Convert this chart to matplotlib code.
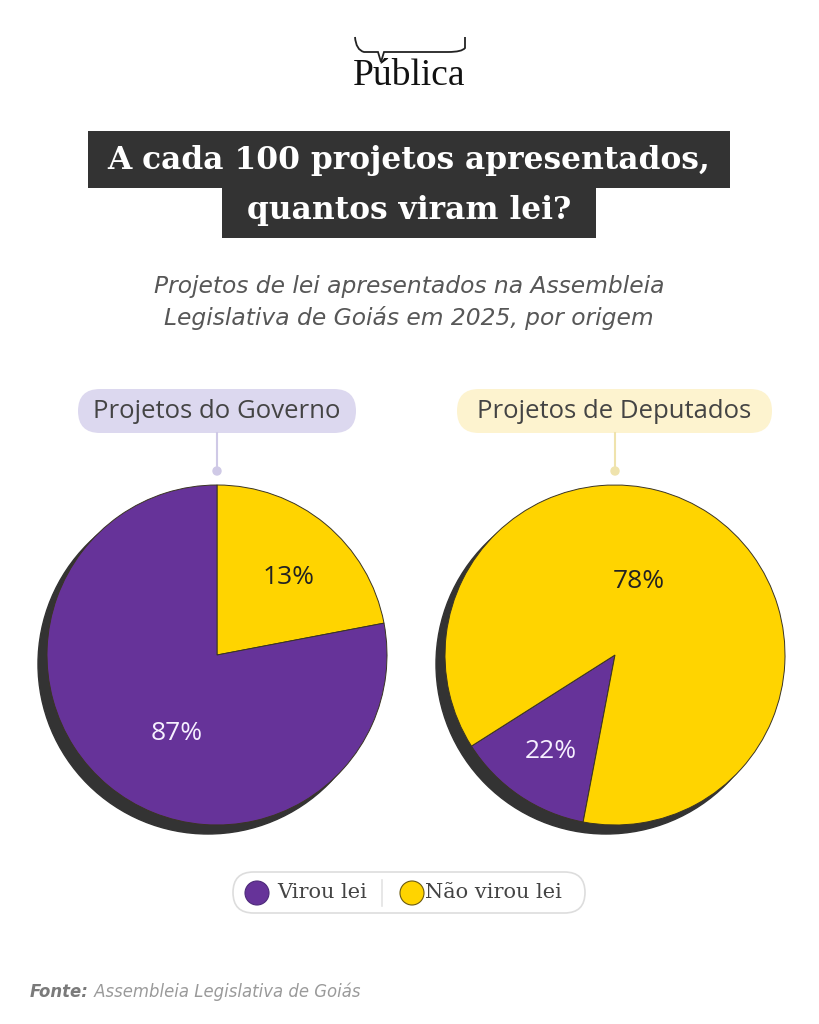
import matplotlib
matplotlib.use("Agg")
import matplotlib.pyplot as plt
from matplotlib.patches import FancyBboxPatch, Circle, Rectangle, PathPatch
from matplotlib.path import Path

groups = ["Projetos do Governo", "Projetos de Deputados"]
outcomes = ["Virou lei", "Não virou lei"]
# printed labels
gov_labels = ["87%", "13%"]
dep_labels = ["22%", "78%"]
# wedge sizes as they are actually drawn in the source (labels are swapped there)
gov_drawn = [78, 22]
dep_drawn = [13, 87]

PURPLE = "#663399"
YELLOW = "#ffd400"
DARK = "#333333"
W, H = 819, 1024


def Y(y):
    # pixel row (from top) -> data y
    return H - y


fig = plt.figure(figsize=(W / 100, H / 100), dpi=100)
fig.patch.set_facecolor("white")
ax = fig.add_axes([0, 0, 1, 1])
ax.set_xlim(0, W)
ax.set_ylim(0, H)
ax.axis("off")


def pill(x0, x1, top, bottom, fc, ec="none", lw=0):
    h = bottom - top
    ax.add_patch(FancyBboxPatch((x0, Y(bottom)), x1 - x0, h,
                                boxstyle="round,pad=0,rounding_size=%g" % (h / 2),
                                fc=fc, ec=ec, lw=lw))


# logo
verts = [(355, 37), (356, 50), (364, 52), (372, 52),
         (378, 52), (381, 62), (384, 52),
         (448, 52), (462, 52), (465, 48), (465, 37)]
codes = [Path.MOVETO, Path.CURVE3, Path.CURVE3, Path.LINETO,
         Path.LINETO, Path.LINETO, Path.LINETO,
         Path.LINETO, Path.CURVE3, Path.CURVE3, Path.LINETO]
verts = [(x, Y(y)) for x, y in verts]
ax.add_patch(PathPatch(Path(verts, codes), fill=False, lw=1.3, ec="#222222"))
ax.text(409, Y(85), "Pública", family="Liberation Serif", fontsize=27,
        ha="center", va="baseline", color="#111111")

# title
ax.add_patch(Rectangle((88, Y(188)), 642, 57, color=DARK, lw=0))
ax.add_patch(Rectangle((222, Y(238)), 374, 51, color=DARK, lw=0))
ax.text(409, Y(160), "A cada 100 projetos apresentados,", family="DejaVu Serif",
        weight="bold", fontsize=22.5, color="white", ha="center", va="center")
ax.text(409, Y(211), "quantos viram lei?", family="DejaVu Serif",
        weight="bold", fontsize=22.5, color="white", ha="center", va="center")

# subtitle
sub_kw = dict(family="DejaVu Sans", style="italic", fontsize=16.8, color="#575757",
              ha="center", va="center")
ax.text(409, Y(286), "Projetos de lei apresentados na Assembleia", **sub_kw)
ax.text(409, Y(318), "Legislativa de Goiás em 2025, por origem", **sub_kw)

# group pills + connectors
pills = [(78, 356, 217, "#dcd8ef", "#cfc9e6"), (457, 772, 615, "#fdf3cf", "#efe3ad")]
for (x0, x1, cx, fc, lc), name in zip(pills, groups):
    pill(x0, x1, 389, 433, fc)
    ax.text((x0 + x1) / 2, Y(411), name, family="Open Sans", fontsize=18.5,
            color="#444444", ha="center", va="center")
    ax.plot([cx, cx], [Y(433), Y(470)], color=lc, lw=1.5)
    ax.add_patch(Circle((cx, Y(471)), 4, color=lc))


def draw_pie(cx, cy, sizes, colors, start, text_pos, labels, text_colors):
    R = 170
    S = 190
    pax = fig.add_axes([(cx - S) / W, (H - cy - S) / H, 2 * S / W, 2 * S / H])
    off = 9 / R
    pax.add_patch(Circle((-off, -off), 1.0, color="#333333", zorder=0))
    pax.pie(sizes, colors=colors, startangle=start, counterclock=False,
            wedgeprops=dict(edgecolor="#3a3424", linewidth=0.7))
    pax.set_xlim(-S / R, S / R)
    pax.set_ylim(-S / R, S / R)
    pax.set_aspect("equal")
    pax.axis("off")
    for (tx, ty), lab, tc in zip(text_pos, labels, text_colors):
        pax.text((tx - cx) / R, (cy - ty) / R, lab, family="Open Sans",
                 fontsize=19, color=tc, ha="center", va="center", zorder=5)


draw_pie(217, 655, [gov_drawn[1], gov_drawn[0]], [YELLOW, PURPLE], 90,
         [(289, 578), (177, 733)], [gov_labels[1], gov_labels[0]],
         ["#222222", "#f6f0ff"])
draw_pie(615, 655, [dep_drawn[0], dep_drawn[1]], [PURPLE, YELLOW], 259.2,
         [(551, 751), (639, 582)], [dep_labels[0], dep_labels[1]],
         ["#f6f0ff", "#222222"])

# legend
pill(233, 585, 872, 913, "white", ec="#dddddd", lw=1.2)
ax.add_patch(Circle((257, Y(893)), 12, fc=PURPLE, ec="#4d2a7a", lw=0.8))
ax.text(277, Y(893), outcomes[0], family="DejaVu Serif", fontsize=15,
        color="#444444", ha="left", va="center")
ax.plot([382, 382], [Y(880), Y(906)], color="#e3e3e3", lw=1.2)
ax.add_patch(Circle((412, Y(893)), 12, fc=YELLOW, ec="#6b5a10", lw=0.8))
ax.text(425, Y(893), outcomes[1], family="DejaVu Serif", fontsize=15,
        color="#444444", ha="left", va="center")

# source
t = ax.text(30, Y(992), "Fonte:", family="DejaVu Sans", style="italic", weight="bold",
            fontsize=11.9, color="#7a7a7a", ha="left", va="center")
ax.annotate(" Assembleia Legislativa de Goiás", xy=(1, 0.5), xycoords=t,
            family="DejaVu Sans", style="italic", fontsize=11.9, color="#9a9a9a",
            ha="left", va="center")

fig.savefig("out.png", dpi=100, facecolor="white")
